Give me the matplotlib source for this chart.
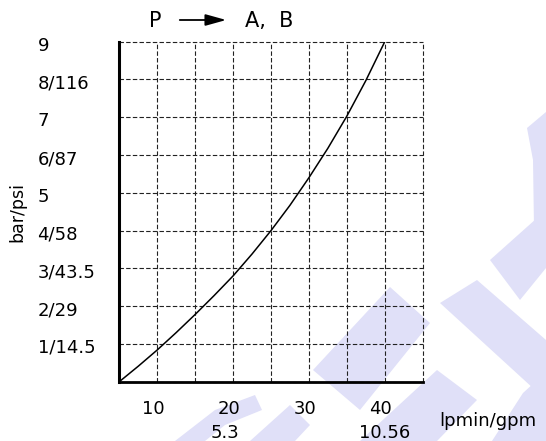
import matplotlib
matplotlib.use('agg')
import matplotlib.pyplot as plt
from matplotlib.patches import Polygon, FancyArrowPatch
import matplotlib.transforms as mtrans

# curve: flow (lpm) vs pressure drop (bar)
flow = [5, 7.5, 10, 12.5, 15, 17.5, 20, 22.5, 25, 27.5, 30, 32.5, 35, 37.5, 40]
pressure = [0, 0.41, 0.84, 1.30, 1.78, 2.28, 2.80, 3.38, 4.00, 4.67, 5.40, 6.18, 7.03, 7.97, 9.0]

y_ticks = [1, 2, 3, 4, 5, 6, 7, 8, 9]
y_labels = ['1/14.5', '2/29', '3/43.5', '4/58', '5', '6/87', '7', '8/116', '9']
x_ticks = [10, 20, 30, 40]
x_labels = ['10', '20', '30', '40']
gpm_ticks = [20, 40]
gpm_labels = ['5.3', '10.56']

W, H = 546, 441
fig = plt.figure(figsize=(W / 100, H / 100), dpi=100)
plt.rcParams['font.family'] = ['DejaVu Sans']

def px(x, y):
    return (x / W, 1 - y / H)

# faint watermark shapes behind everything
wm = '#e0e0f8'
shapes = [
    [(313, 370), (390, 287), (430, 323), (360, 410)],
    [(360, 441), (437, 370), (477, 400), (437, 441)],
    [(440, 303), (477, 280), (546, 340), (546, 400)],
    [(492, 441), (523, 393), (546, 372), (546, 441)],
    [(250, 441), (290, 405), (310, 425), (295, 441)],
    [(175, 441), (215, 410), (255, 395), (262, 410), (225, 425), (205, 441)],
    [(490, 260), (546, 210), (546, 268), (520, 300)],
    [(527, 128), (546, 112), (546, 235), (534, 228), (533, 160)],
]
for s in shapes:
    fig.patches.append(Polygon([px(*p) for p in s], closed=True, transform=fig.transFigure,
                               facecolor=wm, edgecolor='none', zorder=-5))

ax = fig.add_axes([119.3 / W, 1 - 381.7 / H, 303.4 / W, 340 / H])
ax.set_facecolor('none')
ax.plot(flow, pressure, color='black', linewidth=1.1, zorder=3)

ax.set_xlim(5, 45)
ax.set_ylim(0, 9)
ax.set_xticks(range(5, 46, 5))
ax.set_yticks(range(0, 10))
ax.grid(True, color='#222222', linewidth=0.8, linestyle=(0, (4, 2)))
for gl in ax.get_xgridlines() + ax.get_ygridlines():
    gl.set_clip_on(False)
ax.tick_params(length=0, labelbottom=False, labelleft=False)
for side in ['top', 'right']:
    ax.spines[side].set_visible(False)
ax.spines['left'].set_linewidth(2.2)
ax.spines['bottom'].set_linewidth(2.0)

# y labels, left aligned in a column
ytr = mtrans.blended_transform_factory(fig.transFigure, ax.transData)
for v, lab in zip(y_ticks, y_labels):
    ax.annotate(lab, xy=(37.5 / W, v), xycoords=ytr, xytext=(0, -4), textcoords='offset pixels',
                ha='left', va='center', fontsize=13, annotation_clip=False)

xtr = ax.get_xaxis_transform()
for v, lab in zip(x_ticks, x_labels):
    ax.annotate(lab, xy=(v, 0), xycoords=xtr, xytext=(-4, -27), textcoords='offset pixels',
                ha='center', va='center', fontsize=13, annotation_clip=False)
for v, lab, dx in zip(gpm_ticks, gpm_labels, [-8, 0]):
    ax.annotate(lab, xy=(v, 0), xycoords=xtr, xytext=(dx, -51), textcoords='offset pixels',
                ha='center', va='center', fontsize=13, annotation_clip=False)

fig.text(*px(488, 421), 'lpmin/gpm', ha='center', va='center', fontsize=13)
fig.text(*px(17, 212), 'bar/psi', ha='center', va='center', fontsize=12.5, rotation=90)

# heading P -> A, B
fig.text(*px(155, 21), 'P', ha='center', va='center', fontsize=15)
fig.text(*px(245, 21), 'A,  B', ha='left', va='center', fontsize=15)
fig.patches.append(FancyArrowPatch(px(177, 20), px(229, 20), transform=fig.transFigure,
                                   arrowstyle='-|>,head_length=0.9,head_width=0.25',
                                   mutation_scale=14, color='black', linewidth=1.3))

fig.savefig('out.png', dpi=100)
